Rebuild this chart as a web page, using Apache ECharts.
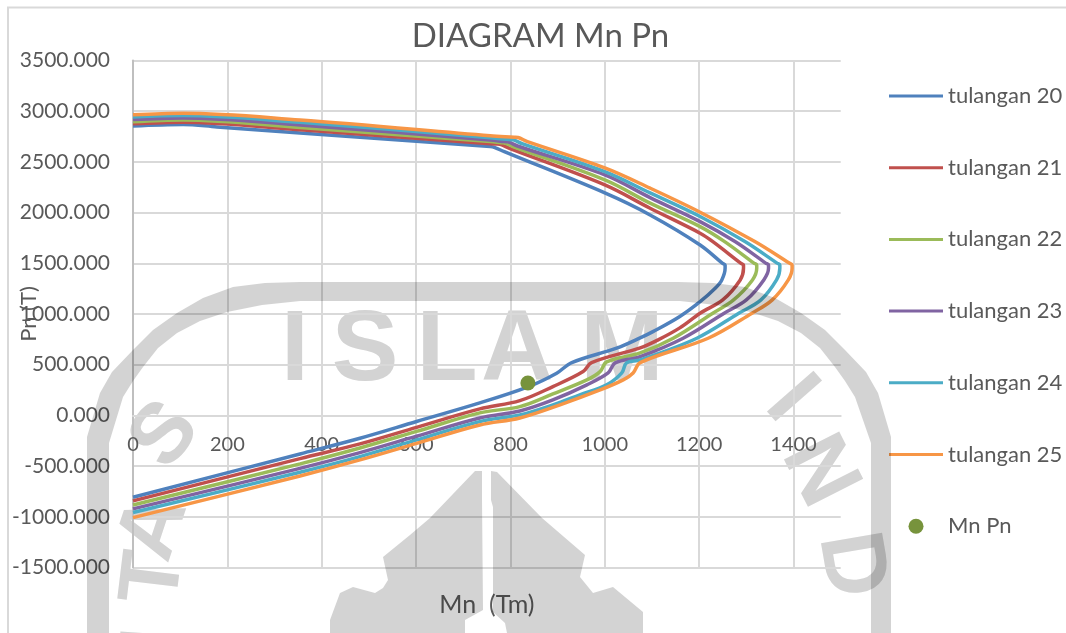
<!DOCTYPE html>
<html><head><meta charset="utf-8">
<style>html,body{margin:0;padding:0;background:#fff}#c{width:1066px;height:633px}</style>
<script src="https://cdn.jsdelivr.net/npm/echarts@6/dist/echarts.min.js"></script>
</head><body><div id="c"></div>
<script>
const names=['tulangan 20','tulangan 21','tulangan 22','tulangan 23','tulangan 24','tulangan 25'];
const colors=['#4f81bd','#c0504d','#9bbb59','#8064a2','#4bacc6','#f79646'];
const mn20=[0,106,178,354,757,767,787,1000,1096,1202,1249,1255,1255,1248,1234,1202,1159,1102,1075,1025,930,898,837,735,601,481,354,0];
const pn20=[2855,2870,2845,2786,2651,2641,2601,2194,1977,1681,1502,1484,1450,1336,1254,1122,976,826,764,663,521,416,281,123,-60,-225,-380,-807];
const mn21=[0,106,354,757,770,778,798,1000,1096,1202,1229,1288,1294,1294,1287,1250,1202,1159,1113,1075,972,954,890,820,735,601,481,354,0];
const pn21=[2875,2892,2816,2678,2676,2673,2633,2273,2043,1797,1714,1502,1484,1450,1336,1139,1008,863,745,666,521,432,284,146,64,-118,-281,-426,-843];
const mn22=[0,106,354,757,780,788,808,1000,1096,1202,1254,1316,1322,1322,1313,1273,1229,1145,1075,1004,990,962,890,820,735,601,481,354,0];
const pn22=[2895,2914,2840,2700,2690,2687,2647,2322,2093,1862,1714,1502,1484,1450,1336,1139,1008,761,616,528,432,350,212,87,25,-158,-321,-478,-883];
const mn23=[0,106,354,757,787,795,815,1000,1096,1202,1276,1341,1347,1347,1337,1300,1253,1166,1075,1022,1007,962,890,820,735,601,481,354,0];
const pn23=[2917,2934,2865,2717,2700,2697,2657,2372,2148,1911,1714,1502,1484,1450,1336,1139,1008,761,580,518,419,301,153,44,-25,-205,-367,-522,-922];
const mn24=[0,106,354,757,798,806,826,1000,1096,1202,1297,1365,1371,1371,1364,1331,1284,1195,1075,1046,1036,1004,947,890,820,735,601,481,354,0];
const pn24=[2944,2957,2890,2737,2720,2717,2677,2404,2194,1961,1714,1502,1484,1450,1336,1139,1008,761,547,518,419,301,202,104,5,-61,-242,-406,-560,-958];
const mn25=[0,106,354,757,808,816,836,1000,1096,1202,1318,1391,1397,1397,1389,1355,1312,1219,1075,1060,1039,990,905,820,735,601,481,354,0];
const pn25=[2964,2980,2914,2759,2743,2740,2700,2441,2241,2004,1714,1502,1484,1450,1336,1139,1008,761,521,419,350,251,104,-25,-94,-276,-439,-597,-1008];
const pointMn=[837];
const pointPn=[320];
const mnAll=[mn20,mn21,mn22,mn23,mn24,mn25];
const pnAll=[pn20,pn21,pn22,pn23,pn24,pn25];

const FONT='Lato, "Open Sans", sans-serif';
const TXT='#595959';
const WM='#d3d3d3';
const ringPts=[[87,633],[87,437],[100,393],[112,372],[133,350],[153,330],[177,313],[203,298],[233,287],[265,283],[300,282],[678,282],[713,283],[745,287],[775,298],[801,313],[825,330],[845,350],[866,372],[878,393],[891,437],[891,633],[871,633],[871,443],[855,397],[845,381],[835,367],[820,348],[801,333],[778,321],[751,312],[716,305],[680,301],[300,301],[262,305],[227,312],[200,321],[177,333],[158,348],[143,367],[133,381],[123,397],[109,443],[109,633]];
const hillL=[[482,471],[475,471],[430,518],[410,535],[383,557],[388,580],[383,588],[375,593],[353,587],[340,593],[330,620],[330,633],[465,633],[465,620],[483,610],[482,500]];
const hillR=[[491,471],[497,472],[542,518],[585,555],[580,577],[593,593],[613,587],[643,612],[643,633],[507,633],[505,623],[493,612],[493,507],[491,500]];
function poly(p){return {type:'polygon',silent:true,z:100,shape:{points:p},style:{fill:WM,blend:'multiply'}};}
function letter(t,x,y,size,rot){return {type:'text',silent:true,z:-1,x:x,y:y,rotation:rot||0,style:{text:t,fill:WM,font:'700 '+size+'px "Liberation Sans"',align:'center',verticalAlign:'middle'}};}

const LINE_ICON='path://M0,0H54V3H0Z';
const series=names.map((n,i)=>({name:n,type:'line',smooth:0.35,symbol:'none',z:5,
  lineStyle:{color:colors[i],width:3.5},itemStyle:{color:colors[i]},
  data:mnAll[i].map((m,k)=>[m,pnAll[i][k]])}));
series.push({name:'Mn Pn',type:'scatter',symbol:'circle',symbolSize:15,z:6,itemStyle:{color:'#77933c',opacity:1},
  data:pointMn.map((m,k)=>[m,pointPn[k]])});

const chart=echarts.init(document.getElementById('c'),null,{renderer:'canvas'});
chart.setOption({
  animation:false,backgroundColor:'#fff',
  textStyle:{fontFamily:FONT},
  title:{text:'DIAGRAM Mn Pn',left:540.5,top:20,padding:0,textAlign:'center',textStyle:{color:TXT,fontSize:33,fontWeight:'normal',fontFamily:FONT}},
  grid:{left:133,top:60.5,width:707.7,height:507,containLabel:false,outerBoundsMode:'none'},
  legend:{orient:'vertical',left:889,top:85,padding:0,itemWidth:54,itemHeight:15,itemGap:49.7,
    textStyle:{color:TXT,fontSize:22,fontFamily:FONT},
    data:names.map(n=>({name:n,icon:LINE_ICON})).concat([{name:'Mn Pn',icon:'circle'}])},
  xAxis:{type:'value',min:0,max:1500,interval:200,name:'Mn  (Tm)',nameLocation:'middle',nameGap:177,nameMoveOverlap:false,
    offset:-152,
    nameTextStyle:{color:TXT,fontSize:25,fontFamily:FONT},
    axisLine:{onZero:false,lineStyle:{color:'#d9d9d9',width:2}},axisTick:{show:false},
    axisLabel:{color:TXT,fontSize:20,margin:19,showMaxLabel:false,fontFamily:FONT,formatter:v=>String(v)},
    splitLine:{show:true,showMaxLine:false,lineStyle:{color:'#d9d9d9',width:2}}},
  yAxis:{type:'value',min:-1500,max:3500,interval:500,name:'Pn (T)',nameLocation:'middle',nameGap:93,nameRotate:90,nameMoveOverlap:false,
    nameTextStyle:{color:TXT,fontSize:22,fontFamily:FONT},
    axisLine:{show:true,onZero:false,lineStyle:{color:'#bfbfbf',width:2}},axisTick:{show:false},
    axisLabel:{color:TXT,fontSize:21,margin:23,formatter:v=>v.toFixed(3),fontFamily:FONT},
    splitLine:{show:true,lineStyle:{color:'#d9d9d9',width:2}}},
  graphic:{elements:[
    {type:'rect',silent:true,z:-1,shape:{x:8,y:7.5,width:1200,height:800},style:{fill:'none',stroke:'#d9d9d9',lineWidth:2}},
    poly(ringPts),poly(hillL),poly(hillR),
    letter('I',295,352,100),letter('S',365,352,100),letter('L',447,352,100),letter('A',517,352,100),letter('M',622,352,100),
    letter('I',790,400,90,-0.85),letter('N',818,472,90,-1.1),letter('D',850,565,90,-1.4),
    letter('S',166,436,85,0.9),letter('A',155,528,85,1.25),letter('T',155,578,85,1.45),letter('I',155,640,85,1.5)
  ]},
  series:series
});
</script></body></html>
